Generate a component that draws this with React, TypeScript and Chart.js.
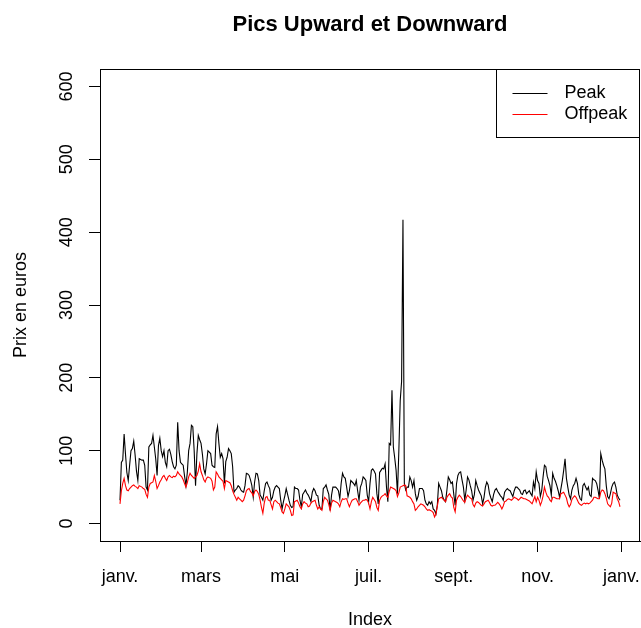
import React, { useEffect, useRef } from "react";
import { Chart, registerables } from "chart.js";

Chart.register(...registerables);

const FONT = "'Liberation Sans', Arial, Helvetica, sans-serif";

// Day offsets from 1 January where the month labels sit
const monthTickDays = [0, 59, 120, 181, 243, 304, 365];
const monthTickLabels = ["janv.", "mars", "mai", "juil.", "sept.", "nov.", "janv."];
const priceTicks = [0, 100, 200, 300, 400, 500, 600];

const chartTitle = "Pics Upward et Downward";
const xAxisTitle = "Index";
const yAxisTitle = "Prix en euros";
const seriesNames = ["Peak", "Offpeak"];

// Daily peak prices (euros), one row per week starting Monday 1 January
const peak = [
  32, 84, 87, 123, 95, 70, 59,
  80, 100, 103, 113, 94, 72, 59,
  89, 88, 87, 87, 80, 50, 46,
  105, 108, 110, 121, 105, 89, 66,
  107, 117, 100, 92, 100, 84, 78,
  100, 102, 95, 85, 78, 75, 80,
  139, 100, 84, 82, 80, 65, 52,
  70, 100, 110, 135, 133, 100, 52,
  96, 121, 115, 110, 95, 75, 68,
  82, 100, 98, 96, 80, 78, 77,
  123, 133, 110, 91, 96, 89, 55,
  85, 91, 103, 100, 96, 78, 43,
  46, 48, 52, 50, 46, 44, 43,
  52, 69, 68, 66, 60, 52, 36,
  57, 69, 68, 59, 39, 36, 32,
  45, 55, 57, 52, 48, 32, 36,
  45, 50, 52, 50, 48, 32, 20,
  30, 38, 48, 40, 32, 25, 22,
  23, 50, 48, 48, 46, 32, 23,
  40, 43, 46, 42, 39, 35, 30,
  43, 48, 45, 39, 38, 25, 20,
  20, 48, 50, 53, 46, 40, 18,
  39, 50, 50, 50, 48, 45, 34,
  55, 69, 64, 62, 50, 37, 45,
  59, 57, 55, 52, 59, 45, 32,
  50, 55, 64, 62, 59, 39, 30,
  55, 73, 75, 72, 68, 41, 27,
  70, 73, 76, 75, 82, 50, 30,
  110, 108, 183, 105, 90, 73, 41,
  100, 169, 195, 417, 55, 46, 50,
  50, 64, 59, 50, 59, 41, 32,
  37, 48, 48, 48, 45, 32, 27,
  25, 30, 27, 30, 20, 18, 13,
  25, 55, 50, 45, 36, 32, 30,
  46, 64, 60, 55, 57, 40, 25,
  55, 66, 70, 71, 60, 50, 32,
  46, 64, 60, 52, 45, 32, 40,
  59, 52, 46, 42, 38, 27, 36,
  50, 57, 53, 41, 35, 30, 40,
  46, 48, 44, 41, 38, 36, 32,
  43, 46, 48, 46, 45, 41, 37,
  45, 50, 50, 48, 46, 41, 40,
  45, 46, 41, 43, 45, 41, 38,
  57, 48, 71, 59, 55, 37, 45,
  64, 80, 78, 65, 59, 52, 39,
  69, 62, 58, 52, 45, 36, 48,
  59, 73, 89, 62, 50, 39, 34,
  46, 52, 55, 62, 55, 40, 34,
  32, 52, 55, 50, 46, 50, 39,
  37, 62, 60, 59, 55, 46, 34,
  96, 87, 80, 75, 52, 37, 34,
  41, 50, 55, 57, 50, 39, 35,
  32,
];

// Daily off-peak prices (euros), same calendar
const offpeak = [
  27, 45, 55, 62, 52, 46, 45,
  48, 50, 52, 53, 51, 50, 48,
  52, 51, 50, 48, 47, 40, 36,
  50, 55, 56, 57, 66, 58, 48,
  52, 57, 60, 64, 66, 62, 59,
  64, 66, 64, 63, 65, 64, 66,
  71, 68, 66, 64, 60, 55, 50,
  56, 64, 69, 66, 64, 62, 64,
  66, 72, 82, 71, 66, 60, 57,
  62, 64, 63, 62, 58, 46, 50,
  71, 68, 64, 62, 60, 58, 48,
  59, 58, 57, 56, 52, 45, 40,
  36, 32, 36, 34, 32, 30, 32,
  38, 45, 47, 48, 44, 42, 38,
  44, 46, 44, 40, 32, 22, 14,
  28, 36, 37, 32, 32, 26, 20,
  30, 32, 30, 28, 27, 22, 16,
  14, 20, 27, 25, 23, 18, 11,
  12, 30, 31, 32, 28, 23, 20,
  27, 30, 28, 27, 23, 24, 28,
  30, 31, 32, 25, 20, 23, 20,
  18, 30, 36, 34, 32, 26, 18,
  28, 32, 31, 30, 29, 27, 23,
  30, 34, 33, 34, 34, 28, 23,
  28, 32, 33, 34, 34, 30, 25,
  28, 30, 32, 32, 33, 32, 28,
  20, 30, 36, 33, 30, 22, 18,
  32, 36, 38, 39, 41, 38, 36,
  44, 50, 49, 48, 47, 45, 37,
  42, 50, 51, 52, 53, 52, 38,
  37, 36, 34, 30, 27, 18, 20,
  23, 25, 27, 26, 25, 23, 20,
  18, 19, 18, 17, 15, 9, 13,
  24, 34, 35, 36, 34, 32, 30,
  36, 39, 41, 37, 35, 22, 16,
  32, 36, 39, 37, 34, 31, 29,
  35, 39, 37, 35, 34, 26, 23,
  28, 30, 29, 27, 25, 24, 27,
  30, 31, 32, 29, 25, 24, 25,
  25, 27, 29, 27, 24, 20, 24,
  30, 31, 33, 34, 33, 32, 34,
  36, 35, 34, 32, 34, 36, 35,
  34, 34, 33, 32, 31, 29, 27,
  32, 37, 30, 36, 32, 25, 30,
  38, 50, 43, 38, 36, 32, 30,
  36, 36, 35, 34, 34, 34, 41,
  42, 43, 39, 35, 27, 23, 26,
  33, 36, 38, 36, 32, 28, 26,
  25, 27, 28, 27, 28, 27, 28,
  30, 32, 36, 36, 35, 34, 34,
  43, 46, 45, 41, 35, 27, 25,
  23, 28, 43, 42, 41, 34, 30,
  23,
];

const seriesColors = ["#000000", "#ff0000"];

// Frame around the plotting region, title and legend box
const decorPlugin = {
  id: "decor",
  afterDraw(chart: any) {
    const { ctx, chartArea: a } = chart;
    ctx.save();
    ctx.strokeStyle = "#000";
    ctx.lineWidth = 1;
    const l = Math.round(a.left) + 0.5;
    const t = Math.round(a.top) + 0.5;
    const r = Math.round(a.right) - 0.5;
    const b = Math.round(a.bottom) + 0.5;
    ctx.strokeRect(l, t, r - l, b - t);

    // title
    ctx.fillStyle = "#000";
    ctx.font = `bold 22px ${FONT}`;
    ctx.textAlign = "center";
    ctx.textBaseline = "alphabetic";
    ctx.fillText(chartTitle, (a.left + a.right) / 2, 31);

    // legend
    const lx = r - 143;
    const ly = t;
    ctx.fillStyle = "#fff";
    ctx.fillRect(lx, ly, r - lx, 68);
    ctx.strokeRect(lx, ly, r - lx, 68);
    ctx.font = `18px ${FONT}`;
    ctx.textAlign = "left";
    ctx.textBaseline = "middle";
    seriesNames.forEach((name, i) => {
      const yy = Math.round(ly + 23 + i * 21) + 0.5;
      ctx.strokeStyle = seriesColors[i];
      ctx.lineWidth = 1.1;
      ctx.beginPath();
      ctx.moveTo(lx + 16, yy);
      ctx.lineTo(lx + 51, yy);
      ctx.stroke();
      ctx.fillStyle = "#000";
      ctx.fillText(name, lx + 68, yy);
    });
    ctx.restore();
  },
};

export default function App() {
  const ref = useRef<HTMLCanvasElement>(null);

  useEffect(() => {
    const canvas = ref.current;
    if (!canvas) return;
    const font = { family: FONT, size: 18 };
    const chart = new Chart(canvas, {
      type: "line",
      data: {
        datasets: [
          {
            label: seriesNames[0],
            data: peak.map((v, i) => ({ x: i, y: v })),
            borderColor: seriesColors[0],
            borderWidth: 1.1,
            pointRadius: 0,
            tension: 0,
            order: 1,
          },
          {
            label: seriesNames[1],
            data: offpeak.map((v, i) => ({ x: i, y: v })),
            borderColor: seriesColors[1],
            borderWidth: 1.1,
            pointRadius: 0,
            tension: 0,
            order: 0,
          },
        ],
      },
      options: {
        responsive: false,
        animation: false,
        devicePixelRatio: 1,
        layout: {
          padding: { top: 69, right: 1, bottom: 0, left: 0 },
        },
        plugins: {
          legend: { display: false },
          tooltip: { enabled: false },
          title: { display: false },
        },
        scales: {
          x: {
            type: "linear",
            min: -14.56,
            max: 378.56,
            afterBuildTicks: (s: any) => {
              s.ticks = monthTickDays.map((v) => ({ value: v }));
            },
            afterFit: (s: any) => {
              s.height = 87;
              s.paddingLeft = 0;
              s.paddingRight = 0;
            },
            ticks: {
              autoSkip: false,
              maxRotation: 0,
              minRotation: 0,
              padding: 14,
              color: "#000",
              font,
              callback: (_v: any, i: number) => monthTickLabels[i],
            },
            grid: {
              drawOnChartArea: false,
              drawTicks: true,
              tickLength: 11,
              color: "#000",
            },
            border: { display: true, color: "#000", width: 1 },
            title: {
              display: true,
              text: xAxisTitle,
              color: "#000",
              font,
              padding: { top: 0, bottom: -3 },
            },
          },
          y: {
            type: "linear",
            min: -24,
            max: 624,
            afterBuildTicks: (s: any) => {
              s.ticks = priceTicks.map((v) => ({ value: v }));
            },
            afterFit: (s: any) => {
              s.width = 100;
              s.paddingTop = 0;
              s.paddingBottom = 0;
            },
            ticks: {
              autoSkip: false,
              minRotation: 90,
              maxRotation: 90,
              crossAlign: "center",
              padding: 7,
              color: "#000",
              font,
              callback: (v: any) => String(v),
            },
            grid: {
              drawOnChartArea: false,
              drawTicks: true,
              tickLength: 11,
              color: "#000",
            },
            border: { display: true, color: "#000", width: 1 },
            title: {
              display: true,
              text: yAxisTitle,
              color: "#000",
              font,
              padding: { top: 10, bottom: 0 },
            },
          },
        },
      },
      plugins: [decorPlugin],
    } as any);
    return () => chart.destroy();
  }, []);

  return (
    <div
      style={{
        position: "fixed",
        left: 0,
        top: 0,
        width: 641,
        height: 628,
        background: "#fff",
      }}
    >
      <canvas ref={ref} width={641} height={628} style={{ display: "block" }} />
    </div>
  );
}
